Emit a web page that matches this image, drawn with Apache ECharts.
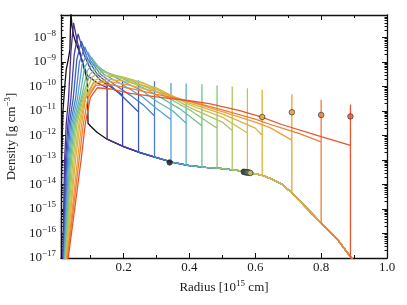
<!DOCTYPE html>
<html><head><meta charset="utf-8">
<script src="https://cdn.jsdelivr.net/npm/echarts@6/dist/echarts.min.js"></script>
<style>html,body{margin:0;padding:0;background:#fff}#c{width:407px;height:305px}</style>
</head><body><div id="c"></div>
<script>
// Radius in 1e15 cm, density as log10(g cm^-3)
const csmProfile = [[0.10,-11.62],[0.12,-11.88],[0.15,-12.15],[0.20,-12.45],[0.25,-12.7],[0.30,-12.9],[0.35,-13.1],[0.40,-13.23],[0.45,-13.3],[0.50,-13.35],[0.55,-13.43],[0.58,-13.52],[0.62,-13.62],[0.65,-13.78],[0.68,-13.98],[0.71,-14.33],[0.75,-14.88],[0.80,-15.57],[0.85,-16.25],[0.89,-16.96],[0.90,-17.15],[0.92,-17.5]];

const shockRadii = [0.092,0.15,0.197,0.2455,0.294,0.344,0.39,0.438,0.484,0.53,0.576,0.621,0.711,0.80,0.889];

const lineColors = ['#111111','#4b2a8f','#4040a6','#3d5cba','#4a7ecb','#57a0d2','#5db4b3','#6ebf91','#8fc472','#b0c45c','#cfc04e','#e0b040','#eca03a','#ef7c33','#e8552c'];

const prof00 = [[0.011,-17.3],[0.012,-13.0],[0.016,-11.0],[0.022,-9.9],[0.026,-9.3],[0.032,-8.9],[0.037,-8.5],[0.040,-6.9],[0.043,-7.5],[0.048,-7.9],[0.055,-8.2],[0.065,-8.55],[0.075,-9.0],[0.083,-9.4],[0.09,-9.75],[0.092,-11.5]];
const prof01 = [[0.015,-17.3],[0.021,-13],[0.026,-11.5],[0.033,-10.5],[0.040,-8.6],[0.048,-7.4],[0.06,-8.2],[0.075,-9.0],[0.09,-9.55],[0.12,-9.85],[0.15,-10.05],[0.15,-9.87],[0.15,-12.15]];
const prof02 = [[0.016,-17.3],[0.024,-13],[0.031,-11.5],[0.040,-10.5],[0.050,-8.7],[0.062,-7.85],[0.08,-8.7],[0.1,-9.3],[0.13,-9.75],[0.165,-10.05],[0.197,-10.35],[0.197,-9.75],[0.197,-12.43]];
const prof03 = [[0.017,-17.3],[0.027,-13],[0.035,-11.5],[0.047,-10.5],[0.058,-8.9],[0.072,-8.15],[0.09,-8.85],[0.12,-9.5],[0.16,-9.95],[0.2,-10.45],[0.2455,-11.04],[0.2455,-9.75],[0.2455,-12.68]];
const prof04 = [[0.018,-17.3],[0.030,-13],[0.039,-11.5],[0.054,-10.5],[0.066,-9.0],[0.082,-8.38],[0.1,-8.95],[0.13,-9.5],[0.17,-9.9],[0.22,-10.35],[0.26,-10.75],[0.294,-11.2],[0.294,-9.78],[0.294,-12.88]];
const prof05 = [[0.019,-17.3],[0.033,-13],[0.043,-11.5],[0.060,-10.5],[0.074,-9.1],[0.092,-8.6],[0.11,-9.05],[0.14,-9.5],[0.2,-9.95],[0.26,-10.45],[0.3,-10.9],[0.344,-11.35],[0.344,-9.86],[0.344,-13.08]];
const prof06 = [[0.020,-17.3],[0.036,-13],[0.047,-11.5],[0.066,-10.5],[0.082,-9.2],[0.102,-8.8],[0.12,-9.15],[0.15,-9.45],[0.2,-9.8],[0.26,-10.2],[0.3,-10.6],[0.35,-11.0],[0.39,-11.5],[0.39,-9.88],[0.39,-13.2]];
const prof07 = [[0.021,-17.3],[0.039,-13],[0.051,-11.5],[0.071,-10.5],[0.090,-9.35],[0.112,-9.0],[0.13,-9.3],[0.16,-9.5],[0.2,-9.7],[0.26,-10.05],[0.3,-10.35],[0.37,-10.9],[0.438,-11.6],[0.438,-9.91],[0.438,-13.28]];
const prof08 = [[0.022,-17.3],[0.042,-13],[0.055,-11.5],[0.074,-10.5],[0.098,-9.5],[0.122,-9.2],[0.14,-9.38],[0.17,-9.52],[0.22,-9.75],[0.3,-10.2],[0.4,-10.95],[0.484,-11.7],[0.484,-9.96],[0.484,-13.33]];
const prof09 = [[0.023,-17.3],[0.046,-13],[0.059,-11.5],[0.077,-10.5],[0.105,-9.6],[0.134,-9.38],[0.16,-9.5],[0.2,-9.62],[0.26,-9.85],[0.3,-10.1],[0.4,-10.85],[0.5,-11.45],[0.53,-11.8],[0.53,-10.0],[0.53,-13.4]];
const prof10 = [[0.024,-17.3],[0.050,-13],[0.064,-11.5],[0.080,-10.5],[0.112,-9.75],[0.145,-9.55],[0.18,-9.62],[0.22,-9.72],[0.3,-10.05],[0.4,-10.75],[0.5,-11.25],[0.576,-11.9],[0.576,-10.07],[0.576,-13.51]];
const prof11 = [[0.025,-17.3],[0.054,-13],[0.068,-11.5],[0.083,-10.5],[0.118,-9.85],[0.15,-9.7],[0.2,-9.78],[0.26,-9.95],[0.3,-10.12],[0.4,-10.68],[0.5,-11.12],[0.6,-11.7],[0.621,-12.0],[0.621,-10.13],[0.621,-13.62]];
const prof12 = [[0.026,-17.3],[0.060,-13],[0.073,-11.5],[0.085,-10.45],[0.11,-9.85],[0.16,-9.8],[0.22,-9.95],[0.3,-10.22],[0.4,-10.62],[0.5,-11.02],[0.6,-11.45],[0.646,-11.69],[0.711,-12.19],[0.711,-10.32],[0.711,-14.35]];
const prof13 = [[0.027,-17.3],[0.065,-13],[0.078,-11.5],[0.092,-10.45],[0.115,-9.95],[0.16,-9.92],[0.22,-10.08],[0.3,-10.32],[0.4,-10.6],[0.5,-10.95],[0.6,-11.33],[0.646,-11.55],[0.73,-11.9],[0.8,-12.26],[0.8,-10.54],[0.8,-15.57]];
const prof14 = [[0.029,-17.3],[0.071,-13],[0.084,-11.5],[0.099,-10.45],[0.12,-10.05],[0.16,-10.1],[0.22,-10.28],[0.3,-10.42],[0.4,-10.58],[0.46,-10.7],[0.55,-10.97],[0.62,-11.25],[0.68,-11.55],[0.8,-12.05],[0.889,-12.4],[0.889,-10.73],[0.889,-16.95]];

const photoX = [0.34,0.565,0.567,0.569,0.571,0.573,0.575,0.577,0.579,0.582,0.585,0.621,0.711,0.80,0.889];
const photoY = [-13.1,-13.48,-13.49,-13.49,-13.5,-13.5,-13.5,-13.51,-13.51,-13.52,-13.53,-11.245,-11.05,-11.16,-11.22];

const xMajorTicks = [0.2,0.4,0.6,0.8,1.0];
const xMinorTicks = [0.1,0.3,0.5,0.7,0.9];
const yMajorTicks = [-17,-16,-15,-14,-13,-12,-11,-10,-9,-8];

const profiles = [prof00,prof01,prof02,prof03,prof04,prof05,prof06,prof07,prof08,prof09,prof10,prof11,prof12,prof13,prof14];

const X_MIN = 0.01, X_MAX = 1.0, Y_MIN = -17, Y_MAX = -7.08;
const yMinorTicks = [];
for (let d = -17; d <= -8; d++) for (let m = 2; m <= 9; m++) { const v = d + Math.log10(m); if (v < Y_MAX) yMinorTicks.push(v); }

const FONT = 'Liberation Serif';
const TXT = '#1a1a1a';
const richSup = {
  b: {fontFamily: FONT, fontSize: 13, color: TXT},
  s: {fontFamily: FONT, fontSize: 9, color: TXT, padding: [0,0,8,0]},
  n: {fontFamily: FONT, fontSize: 13, color: TXT}
};
const spine = {lineStyle: {color: '#111', width: 1.3}};

function xAx(pos, ticks, len, showLine, labels) {
  return {type: 'value', min: X_MIN, max: X_MAX, position: pos,
    axisLine: {show: showLine, onZero: false, ...spine},
    axisTick: {show: true, inside: true, length: len, customValues: ticks, lineStyle: {color: '#111', width: 1}},
    axisLabel: labels ? {show: true, customValues: xMajorTicks, formatter: v => v.toFixed(1), margin: 3,
      fontFamily: FONT, fontSize: 13, color: TXT} : {show: false},
    splitLine: {show: false}};
}
function yAx(pos, ticks, len, showLine, labels) {
  return {type: 'value', min: Y_MIN, max: Y_MAX, position: pos,
    axisLine: {show: showLine, onZero: false, ...spine},
    axisTick: {show: true, inside: true, length: len, customValues: ticks, lineStyle: {color: '#111', width: 1}},
    axisLabel: labels ? {show: true, customValues: yMajorTicks, margin: 5,
      formatter: v => '{b|10}{s|\u2212' + Math.round(-v) + '}', rich: richSup} : {show: false},
    splitLine: {show: false}};
}

const xA = [xAx('bottom', xMajorTicks, 5, true, true), xAx('bottom', xMinorTicks, 3, false, false),
            xAx('top', xMajorTicks, 5, true, false), xAx('top', xMinorTicks, 3, false, false)];
xA[0].name = '{n|Radius [10}{s|15}{n| cm]}';
xA[0].nameLocation = 'middle';
xA[0].nameGap = 13;
xA[0].nameTextStyle = {rich: richSup};

const yA = [yAx('left', yMajorTicks, 5, true, true), yAx('left', yMinorTicks, 2.5, false, false),
            yAx('right', yMajorTicks, 5, true, false), yAx('right', yMinorTicks, 2.5, false, false)];
yA[0].name = '{n|Density [g cm}{s|\u22123}{n|]}';
yA[0].nameLocation = 'middle';
yA[0].nameRotate = 90;
yA[0].nameGap = 40;
yA[0].nameTextStyle = {rich: richSup};

const series = profiles.map((p, i) => ({
  type: 'line', xAxisIndex: 0, yAxisIndex: 0,
  data: p.concat(csmProfile.filter(q => q[0] > shockRadii[i])),
  showSymbol: false, symbol: 'none', clip: true, silent: true,
  lineStyle: {color: lineColors[i], width: 1.3}, itemStyle: {color: lineColors[i]},
  z: 2
}));
series.push({
  type: 'scatter', xAxisIndex: 0, yAxisIndex: 0, z: 5, silent: true,
  symbol: 'circle', symbolSize: 5.5,
  data: photoX.map((x, i) => ({value: [x, photoY[i]], itemStyle: {color: lineColors[i], borderColor: '#333', borderWidth: 0.9}}))
});

const chart = echarts.init(document.getElementById('c'), null, {renderer: 'canvas'});
chart.setOption({
  animation: false,
  backgroundColor: '#fff',
  grid: {left: 61, right: 20, top: 15, bottom: 47, containLabel: false, outerBoundsMode: 'none'},
  xAxis: xA,
  yAxis: yA,
  series: series
});
</script></body></html>
